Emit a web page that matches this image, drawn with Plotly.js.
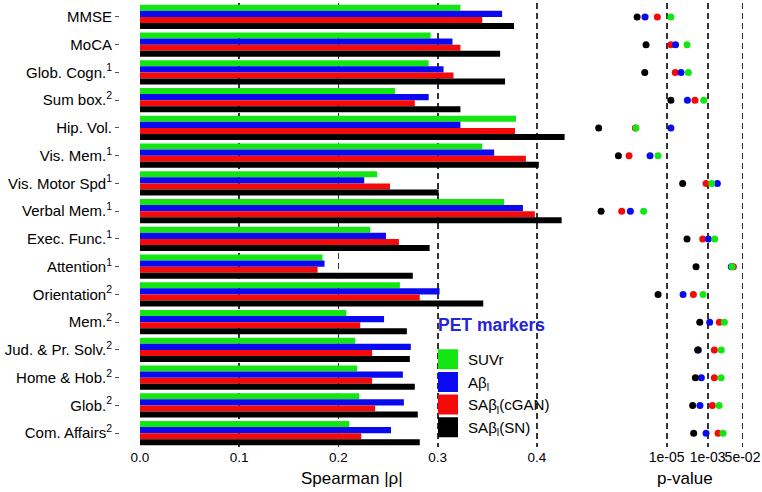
<!DOCTYPE html>
<html>
<head>
<meta charset="utf-8">
<script src="https://cdn.plot.ly/plotly-3.0.1.min.js"></script>
<style>html,body{margin:0;padding:0;background:#fff;}#chart{width:762px;height:492px;}</style>
</head>
<body>
<div id="chart"></div>
<script>
// Categories (top to bottom)
const categories = ["MMSE","MoCA","Glob. Cogn.","Sum box.","Hip. Vol.","Vis. Mem.","Vis. Motor Spd","Verbal Mem.","Exec. Func.","Attention","Orientation","Mem.","Jud. & Pr. Solv.","Home & Hob.","Glob.","Com. Affairs"];
const tickLabels = ["MMSE","MoCA","Glob. Cogn.<sup>1</sup>","Sum box.<sup>2</sup>","Hip. Vol.","Vis. Mem.<sup>1</sup>","Vis. Motor Spd<sup>1</sup>","Verbal Mem.<sup>1</sup>","Exec. Func.<sup>1</sup>","Attention<sup>1</sup>","Orientation<sup>2</sup>","Mem.<sup>2</sup>","Jud. & Pr. Solv.<sup>2</sup>","Home & Hob.<sup>2</sup>","Glob.<sup>2</sup>","Com. Affairs<sup>2</sup>"];

// Spearman |rho|
const rhoSUVr = [0.323,0.293,0.291,0.257,0.379,0.345,0.239,0.367,0.232,0.184,0.262,0.208,0.217,0.219,0.221,0.211];
const rhoAb   = [0.365,0.315,0.306,0.291,0.323,0.357,0.226,0.386,0.248,0.186,0.302,0.246,0.273,0.265,0.266,0.253];
const rhoCGAN = [0.345,0.323,0.316,0.277,0.378,0.389,0.252,0.398,0.261,0.179,0.282,0.222,0.234,0.234,0.237,0.223];
const rhoSN   = [0.377,0.363,0.368,0.323,0.428,0.402,0.301,0.425,0.292,0.275,0.346,0.269,0.272,0.277,0.280,0.282];

// p-values
const pSUVr = [1.6e-5,9.8e-5,1.14e-4,6.4e-4,3.2e-7,3.8e-6,1.57e-3,7.5e-7,2.19e-3,1.54e-2,5.9e-4,6.5e-3,4.6e-3,4.5e-3,3.6e-3,5.6e-3];
const pAb   = [8.8e-7,2.7e-5,5.0e-5,1.02e-4,1.6e-5,1.54e-6,2.96e-3,1.69e-7,1.08e-3,1.41e-2,6.3e-5,1.25e-3,3.5e-4,4.9e-4,4.2e-4,8.3e-4];
const pCGAN = [3.5e-6,1.6e-5,2.6e-5,2.4e-4,2.95e-7,1.46e-7,8.3e-4,6.4e-8,5.7e-4,1.79e-2,2.0e-4,3.7e-3,2.11e-3,2.11e-3,1.69e-3,3.2e-3];
const pSN   = [3.6e-7,9.8e-7,8.5e-7,1.6e-5,4.8e-9,4.4e-8,6.0e-5,6.3e-9,9.8e-5,2.7e-4,3.8e-6,4.1e-4,3.25e-4,2.5e-4,1.85e-4,2.07e-4];

const legendTitle = "PET markers";
const seriesNames = ["SUVr","Aβ<sub>l</sub>","SAβ<sub>l</sub>(cGAN)","SAβ<sub>l</sub>(SN)"];
const colors = ["#14e614","#0a0af0","#f50a0a","#000000"];

const pTicks = [1e-5,1e-3,5e-2];
const pTickText = ["1e-05","1e-03","5e-02"];
const rhoTicks = [0,0.1,0.2,0.3,0.4];
const rhoTickText = ["0.0","0.1","0.2","0.3","0.4"];

const rhos = [rhoSUVr,rhoAb,rhoCGAN,rhoSN];
const ps = [pSUVr,pAb,pCGAN,pSN];

const traces = [];
rhos.forEach((r,i)=>{
  traces.push({type:'bar',orientation:'h',x:r,y:categories,xaxis:'x',yaxis:'y',
    marker:{color:colors[i],line:{width:0}},showlegend:false,hoverinfo:'skip'});
});
// dots: draw order red, blue, green, black
[2,1,0,3].forEach(i=>{
  traces.push({type:'scatter',mode:'markers',x:ps[i],y:categories,xaxis:'x2',yaxis:'y',
    marker:{color:colors[i],size:7,line:{width:0}},showlegend:false,hoverinfo:'skip',cliponaxis:false});
});
// legend swatches
seriesNames.forEach((n,i)=>{
  traces.push({type:'scatter',mode:'markers',x:[null],y:[null],xaxis:'x',yaxis:'y',name:n,
    marker:{color:colors[i],symbol:'square',size:16,line:{color:colors[i],width:4}},showlegend:true});
});

const W=762,H=492;
const fontFam = 'Liberation Sans, Arial, Helvetica, sans-serif';
const layout = {
  width:W,height:H,
  margin:{l:0,r:0,t:0,b:0},
  paper_bgcolor:'#fff',plot_bgcolor:'rgba(0,0,0,0)',
  font:{family:fontFam,color:'#000',size:14},
  barmode:'group',bargap:0.12,bargroupgap:0,
  xaxis:{domain:[140/W,565/W],range:[0,0.4284],anchor:'y',
    tickvals:rhoTicks,ticktext:rhoTickText,tickfont:{size:13.5},tickangle:0,
    showgrid:true,gridcolor:'#333',gridwidth:1.8,griddash:'6px,4px',
    zeroline:false,showline:false,ticks:'',fixedrange:true},
  xaxis2:{domain:[585/W,760/W],type:'log',range:[-8.985,-0.449],anchor:'y',
    tickvals:pTicks,ticktext:pTickText,tickfont:{size:14},tickangle:0,
    showgrid:true,gridcolor:'#333',gridwidth:1.8,griddash:'6px,4px',
    zeroline:false,showline:false,ticks:'',fixedrange:true},
  yaxis:{domain:[1-447/H,1-3/H],type:'category',categoryorder:'array',categoryarray:categories,
    range:[categories.length-0.5,-0.5],autorange:false,tickvals:categories,ticktext:tickLabels,
    anchor:'free',position:119/W,ticks:'outside',ticklen:4,tickcolor:'#555',tickwidth:1,
    showgrid:false,showline:false,zeroline:false,tickfont:{size:15},fixedrange:true},
  legend:{x:428/W,xanchor:'left',y:1-343/H,yanchor:'top',bgcolor:'rgba(0,0,0,0)',
    font:{size:15.1},traceorder:'normal',itemsizing:'trace',tracegroupgap:0},
  annotations:[
    {text:'<b>'+legendTitle+'</b>',xref:'paper',yref:'paper',x:436/W,y:1-325/H,xanchor:'left',yanchor:'middle',showarrow:false,font:{size:17.5,color:'#2424dc'}},
    {text:'Spearman |ρ|',xref:'paper',yref:'paper',x:352/W,y:1-478/H,xanchor:'center',yanchor:'middle',showarrow:false,font:{size:17}},
    {text:'p-value',xref:'paper',yref:'paper',x:685/W,y:1-478/H,xanchor:'center',yanchor:'middle',showarrow:false,font:{size:17}}
  ]
};
Plotly.newPlot('chart',traces,layout,{staticPlot:true,displayModeBar:false});
</script>
</body>
</html>
